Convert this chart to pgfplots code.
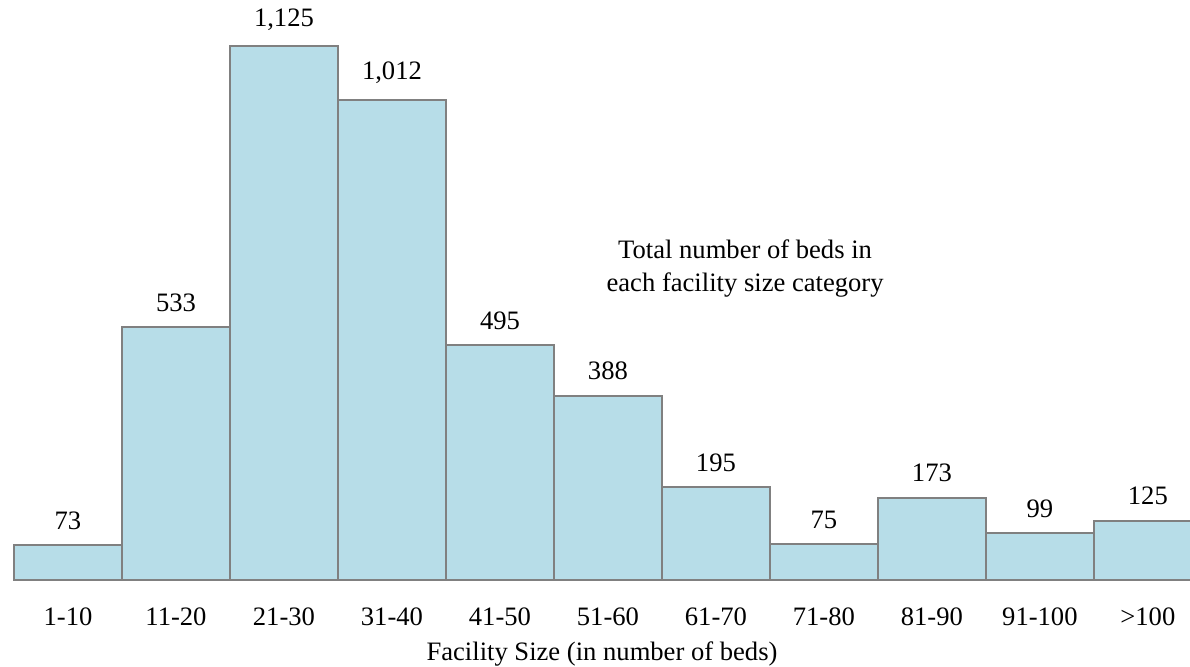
\documentclass[border=0pt]{standalone}
\usepackage{fontspec}
\setmainfont{Liberation Serif}
\usepackage{pgfplots}
\pgfplotsset{compat=1.18}
\definecolor{barfill}{HTML}{B7DDE8}
\definecolor{baredge}{HTML}{808080}
\begin{document}
\begin{tikzpicture}
\begin{axis}[
    at={(0,0)}, anchor=south west,
    scale only axis,
    width=588pt, height=290pt,
    xmin=-0.5, xmax=10.39,
    ymin=0, ymax=1222,
    clip=false,
    ybar, bar width=1,
    hide y axis,
    axis x line*=bottom,
    x axis line style={draw=none},
    major tick length=0pt,
    xtick={0,...,10},
    xticklabels={1-10,11-20,21-30,31-40,41-50,51-60,61-70,71-80,81-90,91-100,>100},
    xticklabel style={yshift=-10.5pt},
    tick label style={font=\fontsize{13.3}{16}\selectfont},
    xlabel={Facility Size (in number of beds)},
    xlabel style={font=\fontsize{13.3}{16}\selectfont, yshift=-1pt},
    nodes near coords,
    nodes near coords style={font=\fontsize{13.3}{16}\selectfont, yshift=4pt,
        /pgf/number format/.cd, 1000 sep={,}, assume math mode=true},
]
\addplot[fill=barfill, draw=baredge, line width=1pt]
    coordinates {(0,73) (1,533) (2,1125) (3,1012) (4,495) (5,388) (6,195) (7,75) (8,173) (9,99) (10,125)};
\node[align=center, font=\fontsize{13.3}{16.5}\selectfont] at (axis cs:6.27,657)
    {Total number of beds in\\each facility size category};
\end{axis}
\pgfresetboundingbox
\path[use as bounding box] (-7pt,-43pt) rectangle (588pt,290pt);
\end{tikzpicture}
\end{document}
